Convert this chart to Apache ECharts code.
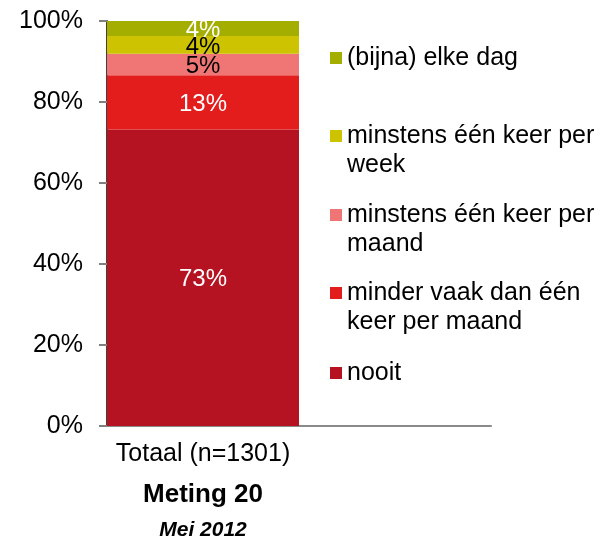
<!DOCTYPE html>
<html>
<head>
<meta charset="utf-8">
<script src="https://cdn.jsdelivr.net/npm/echarts@6/dist/echarts.min.js"></script>
<style>
html, body { margin: 0; padding: 0; background: #fff; }
#chart { width: 612px; height: 541px; }
</style>
</head>
<body>
<div id="chart"></div>
<script>
// data
const categories = ['Totaal (n=1301)', '']
const groupTitle = 'Meting 20'
const groupDate = 'Mei 2012'

// stacked bottom -> top
const seriesNames = [
  'nooit',
  'minder vaak dan één keer per maand',
  'minstens één keer per maand',
  'minstens één keer per week',
  '(bijna) elke dag'
]
const nooit = [73.2, '-']
const minderVaak = [13.4, '-']
const perMaand = [5.3, '-']
const perWeek = [4.4, '-']
const elkeDag = [3.7, '-']

// legend order (top -> bottom) and wrapped labels
const legendOrder = [4, 3, 2, 1, 0]
const legendLabels = [
  ['nooit'],
  ['minder vaak dan één', 'keer per maand'],
  ['minstens één keer per', 'maand'],
  ['minstens één keer per', 'week'],
  ['(bijna) elke dag']
]

// styling
const colors = ['#B51222', '#E31C1C', '#F07676', '#CEC300', '#A3AE00']
const labelColors = ['#fff', '#fff', '#000', '#000', '#fff']
const iconTops = [52, 130, 209, 287, 367]
const FONT = '"Liberation Sans", Arial, sans-serif'
const LINE_H = 29

const values = [nooit, minderVaak, perMaand, perWeek, elkeDag]

const series = values.map((vals, i) => ({
  name: seriesNames[i],
  type: 'bar',
  stack: 'total',
  data: vals,
  barWidth: '100%',
  itemStyle: { color: colors[i] },
  label: {
    show: true,
    position: 'inside',
    offset: [0, 2],
    color: labelColors[i],
    fontFamily: FONT,
    fontSize: 24,
    formatter: p => Math.round(p.value) + '%'
  }
}))

// one legend per item so wrapped labels can hang from the icon line
const legends = legendOrder.map((idx, k) => {
  const lines = legendLabels[idx]
  const wrapped = lines.length > 1
  // blank first line keeps the first text line centred on the icon
  const text = wrapped ? ' \n' + lines.join('\n') : lines[0]
  const offset = wrapped ? LINE_H * 1.5 - 6 : LINE_H / 2 - 6
  return {
    orient: 'vertical',
    left: 330,
    top: iconTops[k] - offset,
    padding: 0,
    itemWidth: 12,
    itemHeight: 12,
    icon: 'rect',
    data: [seriesNames[idx]],
    formatter: () => text,
    textStyle: {
      fontFamily: FONT,
      fontSize: 25,
      color: '#000',
      lineHeight: LINE_H
    }
  }
})

const chart = echarts.init(document.getElementById('chart'))
chart.setOption({
  animation: false,
  textStyle: { fontFamily: FONT },
  grid: { left: 107, right: 121, top: 21, bottom: 114, containLabel: false },
  legend: legends,
  xAxis: {
    type: 'category',
    data: categories,
    axisLine: { lineStyle: { color: '#8a8a8a', width: 2 } },
    axisTick: { show: false },
    axisLabel: {
      interval: 0,
      margin: 10,
      formatter: v => v ? `{a|${v}}\n{b|${groupTitle}}\n{c|${groupDate}}` : '',
      rich: {
        a: { fontFamily: FONT, fontSize: 25, color: '#000', lineHeight: 36 },
        b: { fontFamily: FONT, fontSize: 26, fontWeight: 'bold', color: '#000', lineHeight: 46 },
        c: { fontFamily: FONT, fontSize: 21, fontWeight: 'bold', fontStyle: 'italic', color: '#000', lineHeight: 25 }
      }
    }
  },
  yAxis: {
    type: 'value',
    min: 0,
    max: 100,
    interval: 20,
    axisLine: { show: true, lineStyle: { color: '#404040', width: 2 } },
    axisTick: { show: true, length: 8, lineStyle: { color: '#808080', width: 2 } },
    splitLine: { show: false },
    axisLabel: {
      formatter: '{value}%',
      margin: 24,
      fontFamily: FONT,
      fontSize: 25,
      color: '#000'
    }
  },
  series
})
</script>
</body>
</html>
